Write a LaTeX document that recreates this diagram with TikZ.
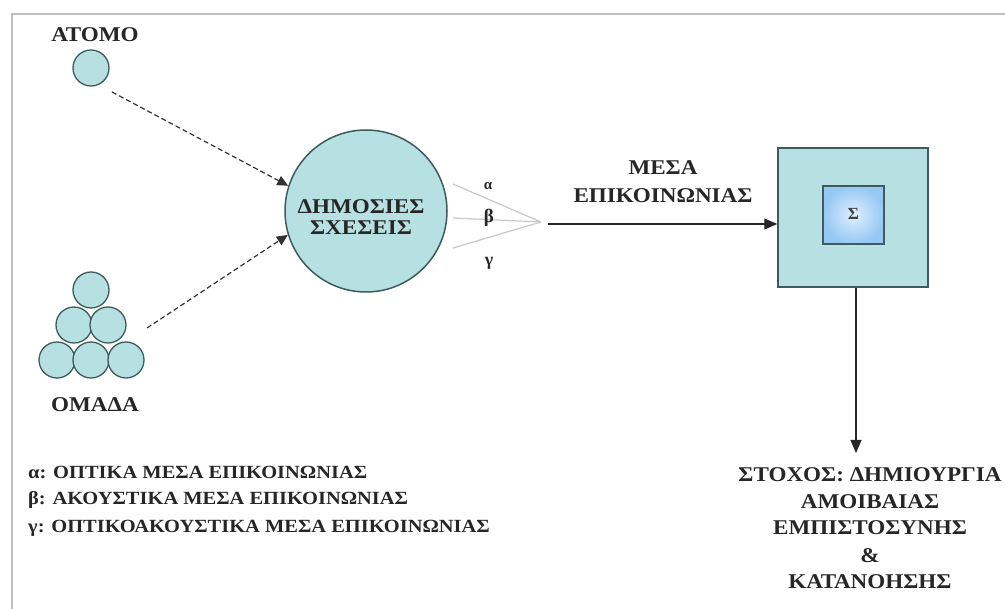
\documentclass[tikz,border=0pt]{standalone}
\usepackage{fontspec}
\setmainfont{Liberation Serif}
\newfontfamily\widebold[FakeStretch=1.1]{Liberation Serif}
\usetikzlibrary{arrows.meta}
\definecolor{cfill}{RGB}{182,224,226}
\definecolor{cline}{RGB}{62,92,94}
\definecolor{frame}{RGB}{190,190,190}
\definecolor{fan}{RGB}{200,200,200}
\definecolor{inner}{RGB}{150,200,245}
\tikzset{
  ball/.style={circle, draw=cline, fill=cfill, line width=1.3pt, minimum size=36pt, inner sep=0pt},
  lbl/.style={font=\widebold\bfseries\fontsize{21}{21}\selectfont, text=black!85, inner sep=0pt, anchor=base},
  leg/.style={font=\widebold\bfseries\fontsize{18.6}{18.6}\selectfont, text=black!85, inner sep=0pt, anchor=base west},
  dasharrow/.style={dashed, dash pattern=on 5pt off 3pt, line width=1.2pt, black!80, -{Triangle[length=11pt,width=10pt]}},
  solidarrow/.style={line width=1.1pt, black!85, -{Triangle[length=13pt,width=11pt]}},
  fanline/.style={fan, line width=1.2pt}
}
\begin{document}
\begin{tikzpicture}[x=1pt,y=-1pt]
\useasboundingbox (0,0) rectangle (1005,609);
\fill[white] (0,0) rectangle (1005,609);
% outer frame
\draw[frame, line width=2pt] (12,620) -- (12,14) -- (1010,14);

% individual
\node[lbl] (atomot) at (95,42) {ΑΤΟΜΟ};
\node[ball] (atomo) at (91,68) {};

% group of six
\node[ball] (g1) at (91,290) {};
\node[ball] (g2) at (74,325) {};
\node[ball] (g3) at (108,325) {};
\node[ball] (g4) at (57,360) {};
\node[ball] (g5) at (91,360) {};
\node[ball] (g6) at (126,360) {};
\node[lbl] (omadat) at (95,412) {ΟΜΑΔΑ};

% public relations
\node[circle, draw=cline, fill=cfill, line width=1.5pt, minimum size=162pt, inner sep=0pt] (ds) at (366,211) {};
\node[lbl] (ds1) at (361,214) {ΔΗΜΟΣΙΕΣ};
\node[lbl] (ds2) at (361,235) {ΣΧΕΣΕΙΣ};

\coordinate (ga) at (112,92);
\coordinate (gb) at (147,328);
\draw[dasharrow] (ga) -- (ds.162);
\draw[dasharrow] (gb) -- (ds.197);

% fan of media types
\coordinate (f1) at (453,184);
\coordinate (f2) at (453,218);
\coordinate (f3) at (453,248);
\coordinate (fc) at (541,222);
\draw[fanline] (f1) -- (fc);
\draw[fanline] (f2) -- (fc);
\draw[fanline] (f3) -- (fc);
\node[font=\bfseries\fontsize{15}{15}\selectfont, text=black!85] (la) at (488,186) {α};
\node[font=\bfseries\fontsize{19}{19}\selectfont, text=black!85] (lb) at (489,218) {β};
\node[font=\bfseries\fontsize{18}{18}\selectfont, text=black!85] (lg) at (489,263) {γ};

% target audience
\node[rectangle, draw=cline, fill=cfill, line width=1.5pt, minimum width=150pt, minimum height=139pt, inner sep=0pt] (tq) at (853,217.5) {};
\node[rectangle, draw=cline, inner color=white!70!inner, outer color=inner, line width=1.5pt, minimum width=61pt, minimum height=58pt, inner sep=0pt] (sq) at (853.5,215) {};
\node[font=\bfseries\fontsize{17}{17}\selectfont, text=black!75] (sig) at (853.5,214) {Σ};

\coordinate (ms) at (548,224);
\draw[solidarrow] (ms) -- (tq.west |- ms);
\node[lbl] (mesa1) at (663,175) {ΜΕΣΑ};
\node[lbl] (mesa2) at (663,203) {ΕΠΙΚΟΙΝΩΝΙΑΣ};

% goal
\node[lbl] (goal1) at (870,482) {ΣΤΟΧΟΣ: ΔΗΜΙΟΥΡΓΙΑ};
\node[lbl] (goal2) at (870,509) {ΑΜΟΙΒΑΙΑΣ};
\node[lbl] (goal3) at (870,535) {ΕΜΠΙΣΤΟΣΥΝΗΣ};
\node[lbl] (goal4) at (870,562) {\&};
\node[lbl] (goal5) at (870,589) {ΚΑΤΑΝΟΗΣΗΣ};
\coordinate (gtop) at (856,453);
\draw[solidarrow] (tq.south -| gtop) -- (gtop);

% legend
\node[leg] (leg1) at (28,479) {α: ΟΠΤΙΚΑ ΜΕΣΑ ΕΠΙΚΟΙΝΩΝΙΑΣ};
\node[leg] (leg2) at (28,505) {β: ΑΚΟΥΣΤΙΚΑ ΜΕΣΑ ΕΠΙΚΟΙΝΩΝΙΑΣ};
\node[leg] (leg3) at (28,533) {γ: ΟΠΤΙΚΟΑΚΟΥΣΤΙΚΑ ΜΕΣΑ ΕΠΙΚΟΙΝΩΝΙΑΣ};
\end{tikzpicture}
\end{document}
